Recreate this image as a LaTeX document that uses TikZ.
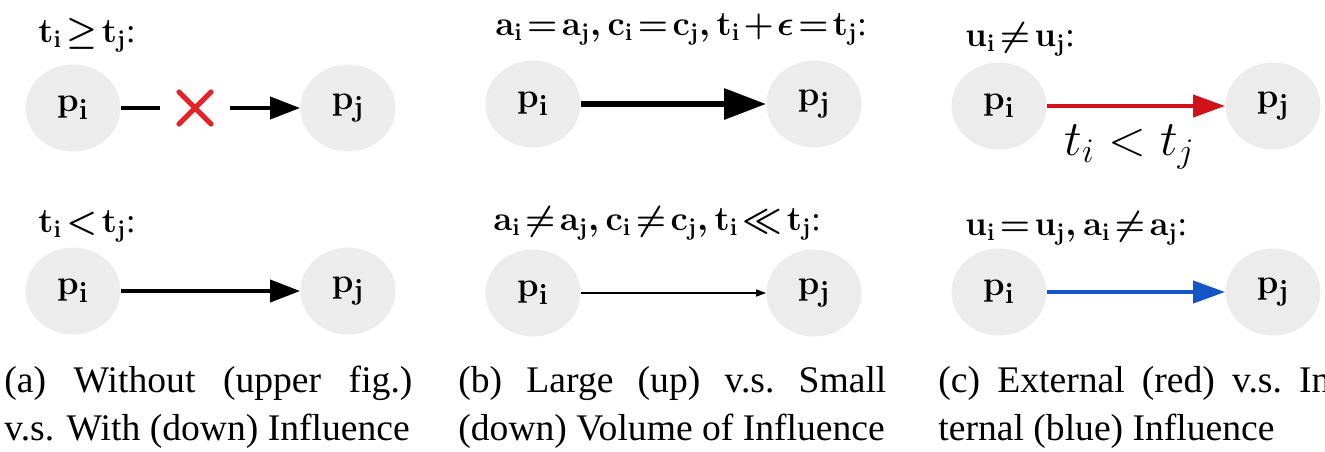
\documentclass[tikz,border=0pt]{standalone}
\usepackage{fontspec}
\setmainfont{Liberation Serif}
\usetikzlibrary{shapes.geometric,arrows.meta,positioning,calc}

\definecolor{extred}{HTML}{D0121B}
\definecolor{intblue}{HTML}{1456C8}
\definecolor{crossred}{HTML}{E5242A}
\newcommand{\bsub}[2]{\mathbf{#1}_{\mathbf{#2}}}
\newcommand{\tightmath}{\thickmuskip=2mu\relax\medmuskip=1.5mu\relax}

\begin{document}
\begin{tikzpicture}[
    x=0.5pt, y=-0.5pt,
    post/.style={ellipse, fill=gray!15, minimum width=47.5pt, minimum height=43.5pt, inner sep=0pt, font=\fontsize{19}{19}\selectfont\boldmath},
    cond/.style={anchor=base west, inner sep=0pt, font=\fontsize{17}{18}\selectfont\boldmath\tightmath},
    caption/.style={anchor=base west, inner sep=0pt, align=left, font=\fontsize{18.8}{24}\selectfont},
    xbox/.style={minimum width=35pt, minimum height=16pt, inner sep=0pt},
    link/.style={line width=2pt},
    flow/.style={-{Triangle[length=15pt,width=11pt]}, line width=2pt},
    heavy/.style={-{Triangle[length=21pt,width=15pt]}, line width=3pt},
    faint/.style={-{Triangle[length=5pt,width=3.5pt]}, line width=0.6pt},
    xmark/.style={crossred, line width=2.6pt, line cap=round}
]
\useasboundingbox (0,0) rectangle (1325,451);

% Panel (a): without / with influence
\node[cond] (a1lbl) at (38,42) {$\bsub{t}{i}\geq\bsub{t}{j}$:};
\node[post] (a1i) at (73,108) {$\bsub{p}{i}$};
\node[post] (a1j) at (348,108) {$\bsub{p}{j}$};
\node[xbox] (a1x) at (195,108) {};
\draw[link] (a1i) -- (a1x);
\draw[flow] (a1x) -- (a1j);
\draw[xmark] (a1x.center) ++(-8pt,-8pt) -- ++(16pt,16pt);
\draw[xmark] (a1x.center) ++(-8pt,8pt) -- ++(16pt,-16pt);

\node[cond] (a2lbl) at (38,232) {$\bsub{t}{i}<\bsub{t}{j}$:};
\node[post] (a2i) at (73,291) {$\bsub{p}{i}$};
\node[post] (a2j) at (348,291) {$\bsub{p}{j}$};
\draw[flow] (a2i) -- (a2j);

% Panel (b): large / small volume
\node[cond] (b1lbl) at (495,35) {$\bsub{a}{i}=\bsub{a}{j}, \bsub{c}{i}=\bsub{c}{j}, \bsub{t}{i}+\epsilon=\bsub{t}{j}$:};
\node[post] (b1i) at (533,104) {$\bsub{p}{i}$};
\node[post] (b1j) at (814,104) {$\bsub{p}{j}$};
\draw[heavy] (b1i) -- (b1j);

\node[cond] (b2lbl) at (493,230) {$\bsub{a}{i}\neq\bsub{a}{j}, \bsub{c}{i}\neq\bsub{c}{j}, \bsub{t}{i}\ll\bsub{t}{j}$:};
\node[post] (b2i) at (533,293) {$\bsub{p}{i}$};
\node[post] (b2j) at (814,293) {$\bsub{p}{j}$};
\draw[faint] (b2i) -- (b2j);

% Panel (c): external / internal
\node[cond] (c1lbl) at (965,46) {$\bsub{u}{i}\neq\bsub{u}{j}$:};
\node[post] (c1i) at (999,106) {$\bsub{p}{i}$};
\node[post] (c1j) at (1273,106) {$\bsub{p}{j}$};
\draw[flow, extred, -{Triangle[length=16pt,width=11pt]}] (c1i) -- (c1j);
\node[anchor=base west, inner sep=0pt, font=\fontsize{25}{25}\selectfont] (c1lbl2) at (1064,155) {$t_i < t_j$};

\node[cond] (c2lbl) at (965,235) {$\bsub{u}{i}=\bsub{u}{j}, \bsub{a}{i}\neq\bsub{a}{j}$:};
\node[post] (c2i) at (999,292) {$\bsub{p}{i}$};
\node[post] (c2j) at (1273,292) {$\bsub{p}{j}$};
\draw[flow, intblue, -{Triangle[length=16pt,width=11pt]}] (c2i) -- (c2j);

% Captions
\node[caption] (capa) at (4,440)
  {\hbox to 204pt{(a)\hfill Without\hfill (upper\hfill fig.)}\\\hbox{v.s. With (down) Influence}};
\node[caption] (capb) at (458,440)
  {\hbox to 214pt{(b)\hfill Large\hfill (up)\hfill v.s.\hfill Small}\\\hbox{(down) Volume of Influence}};
\node[caption] (capc) at (938,440)
  {\hbox to 196pt{(c)\hfill External\hfill (red)\hfill v.s.\hfill In}\\\hbox{ternal (blue) Influence}};

\end{tikzpicture}
\end{document}
